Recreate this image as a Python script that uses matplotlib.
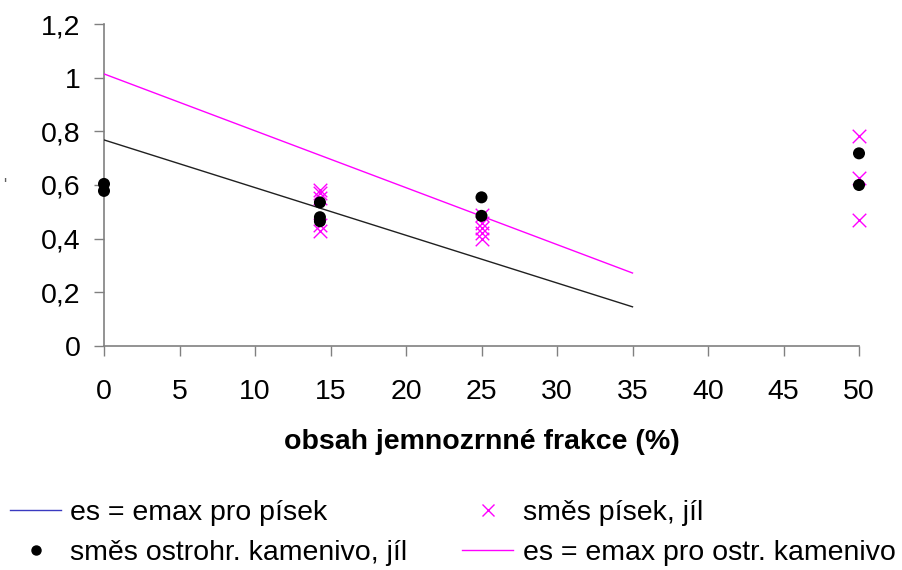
import matplotlib
matplotlib.use("Agg")
import matplotlib.pyplot as plt
from matplotlib.lines import Line2D

plt.rcParams['font.family'] = ['Liberation Sans', 'DejaVu Sans']

# fine-fraction content (%) and void ratio of the mixtures
sand_x = [14.3, 14.3, 14.3, 14.3, 14.3, 25, 25, 25, 25, 25, 50, 50, 50]
sand_e = [0.58, 0.57, 0.55, 0.45, 0.43, 0.49, 0.46, 0.44, 0.42, 0.40, 0.783, 0.625, 0.47]

gravel_x = [0, 0, 14.3, 14.3, 14.3, 25, 25, 50, 50]
gravel_e = [0.604, 0.578, 0.535, 0.48, 0.465, 0.554, 0.485, 0.718, 0.60]

# es = emax lines
line_x = [0, 35]
line_sand = [0.768, 0.146]
line_gravel = [1.014, 0.272]

xticks = [0, 5, 10, 15, 20, 25, 30, 35, 40, 45, 50]
yticks = [0, 0.2, 0.4, 0.6, 0.8, 1.0, 1.2]
ytick_labels = ['0', '0,2', '0,4', '0,6', '0,8', '1', '1,2']

MAGENTA = '#ff00ff'
AXIS_GRAY = '#808080'
FS = 20.5

fig = plt.figure(figsize=(9.02, 5.70), dpi=100)
ax = fig.add_axes([104 / 902, 1 - 346 / 570, (859 - 104) / 902, (346 - 24) / 570])

ax.plot(line_x, line_sand, color='#202020', lw=1.0, zorder=2)
ax.plot(line_x, line_gravel, color=MAGENTA, lw=1.0, zorder=2)
ax.scatter(sand_x, sand_e, marker='x', s=95, color=MAGENTA, linewidths=1.0, zorder=3)
ax.scatter(gravel_x, gravel_e, marker='o', s=75, color='black', edgecolors='none', zorder=4)

ax.set_xlim(0, 50)
ax.set_ylim(0, 1.2)
ax.set_xticks(xticks)
ax.set_xticklabels([str(t) for t in xticks])
ax.set_yticks(yticks)
ax.set_yticklabels(ytick_labels)

for side in ('top', 'right'):
    ax.spines[side].set_visible(False)
for side in ('left', 'bottom'):
    ax.spines[side].set_color(AXIS_GRAY)
    ax.spines[side].set_linewidth(1.2)
ax.spines['left'].set_zorder(1)

ax.tick_params(axis='x', direction='out', length=7, width=1, color=AXIS_GRAY,
               labelsize=FS, pad=17)
ax.tick_params(axis='y', direction='out', length=7, width=1, color=AXIS_GRAY,
               labelsize=FS, pad=10)
for lab in ax.get_xticklabels() + ax.get_yticklabels():
    lab.set_color('black')
for coll in ax.collections:
    coll.set_clip_on(False)

ax.set_xlabel('obsah jemnozrnné frakce (%)', fontsize=FS, fontweight='bold', labelpad=17)

fig.text(5 / 902, 1 - 186 / 570, "'", fontsize=12, color='#606060', ha='center', va='center')

handles = [
    Line2D([], [], color='#3a3ac0', lw=1.0),
    Line2D([], [], marker='o', ls='none', color='black', markersize=6.5),
    Line2D([], [], marker='x', ls='none', color=MAGENTA, markersize=9, markeredgewidth=1.0),
    Line2D([], [], color=MAGENTA, lw=1.0),
]
labels = [
    'es = emax pro písek',
    'směs ostrohr. kamenivo, jíl',
    'směs písek, jíl',
    'es = emax pro ostr. kamenivo',
]
fig.legend(handles, labels, ncol=2, frameon=False, fontsize=FS,
           loc='upper left', bbox_to_anchor=(10 / 902, 1 - 500 / 570),
           borderpad=0, borderaxespad=0, handlelength=1.8, handletextpad=0.32,
           columnspacing=1.92, labelspacing=0.5)

fig.savefig('out.png', dpi=100)
